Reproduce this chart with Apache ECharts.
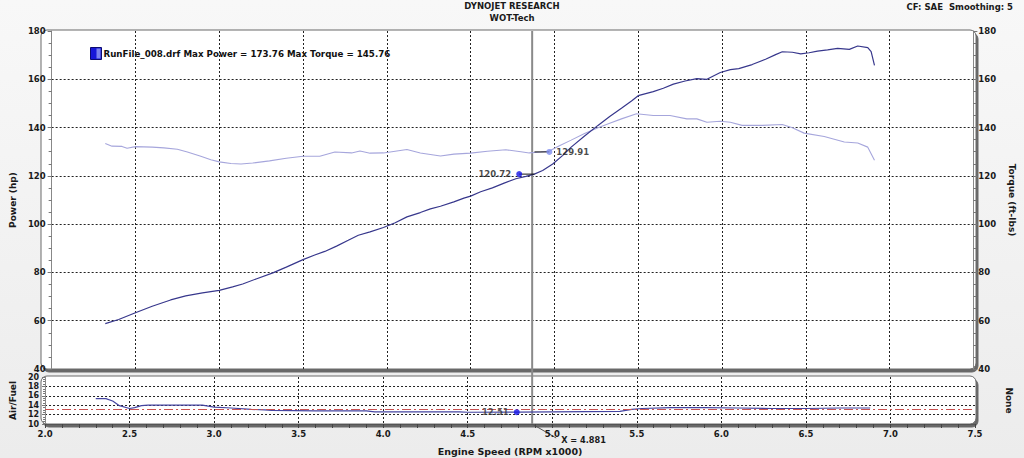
<!DOCTYPE html>
<html>
<head>
<meta charset="utf-8">
<title>Dynojet WOT-Tech</title>
<script src="https://cdn.jsdelivr.net/npm/echarts@6/dist/echarts.min.js"></script>
<style>
  html, body { margin: 0; padding: 0; }
  #chart { width: 1024px; height: 458px; }
</style>
</head>
<body>
<div id="chart"></div>
<script>
// power curve (hp)
const powerRpm = [2.32, 2.40, 2.50, 2.60, 2.71, 2.80, 2.90, 3.00, 3.08, 3.14, 3.22, 3.32, 3.40, 3.50, 3.57, 3.63, 3.70, 3.77, 3.83, 3.90, 3.98, 4.05, 4.12, 4.20, 4.26, 4.32, 4.40, 4.46, 4.50, 4.56, 4.63, 4.70, 4.77, 4.83, 4.88, 4.93, 4.99, 5.05, 5.10, 5.18, 5.26, 5.33, 5.40, 5.46, 5.50, 5.59, 5.65, 5.71, 5.78, 5.85, 5.91, 5.99, 6.05, 6.10, 6.18, 6.26, 6.32, 6.36, 6.42, 6.47, 6.52, 6.57, 6.63, 6.69, 6.76, 6.81, 6.87, 6.89, 6.91]
const powerHp = [58.8, 60.5, 63.3, 66.0, 68.6, 70.3, 71.5, 72.6, 74.0, 75.2, 77.3, 79.8, 82.2, 85.3, 87.2, 88.7, 90.9, 93.3, 95.4, 96.8, 98.6, 100.6, 103.0, 104.8, 106.3, 107.4, 109.2, 110.8, 111.6, 113.4, 115.0, 117.0, 118.8, 119.8, 120.7, 122.2, 124.9, 128.5, 131.9, 136.5, 140.9, 144.6, 148.0, 151.0, 153.2, 154.9, 156.3, 158.0, 159.3, 160.3, 160.0, 162.8, 164.0, 164.4, 166.1, 168.3, 170.2, 171.4, 171.2, 170.5, 171.0, 171.7, 172.2, 172.8, 172.4, 173.8, 173.1, 171.5, 165.8]

// torque curve (ft-lbs)
const torqueRpm = [2.32, 2.36, 2.42, 2.45, 2.50, 2.60, 2.67, 2.75, 2.81, 2.89, 2.95, 3.00, 3.07, 3.13, 3.20, 3.30, 3.40, 3.50, 3.60, 3.69, 3.79, 3.84, 3.90, 3.98, 4.05, 4.12, 4.20, 4.32, 4.40, 4.50, 4.60, 4.71, 4.80, 4.85, 4.92, 4.97, 5.03, 5.10, 5.18, 5.26, 5.33, 5.40, 5.49, 5.59, 5.69, 5.79, 5.85, 5.91, 5.99, 6.05, 6.12, 6.24, 6.36, 6.42, 6.49, 6.61, 6.73, 6.81, 6.87, 6.91]
const torqueFtlb = [133.4, 132.3, 132.2, 131.4, 132.1, 131.9, 131.6, 131.0, 129.9, 128.1, 126.7, 125.8, 125.1, 124.9, 125.3, 126.2, 127.3, 128.1, 128.1, 129.9, 129.5, 130.3, 129.4, 129.5, 130.2, 130.9, 129.5, 128.2, 129.0, 129.4, 130.2, 130.8, 130.0, 129.5, 129.9, 130.3, 132.5, 134.8, 137.5, 139.9, 141.8, 143.6, 145.7, 145.0, 145.0, 143.6, 143.6, 142.2, 142.6, 142.2, 140.9, 140.9, 141.3, 139.9, 137.7, 136.3, 134.0, 133.6, 131.9, 126.5]

// air/fuel ratio
const afrRpm = [2.30, 2.36, 2.40, 2.44, 2.50, 2.53, 2.57, 2.61, 2.80, 2.93, 3.00, 3.10, 3.22, 3.30, 3.34, 3.60, 3.90, 3.95, 4.10, 4.45, 4.50, 4.79, 5.00, 5.40, 5.47, 5.53, 5.70, 5.90, 6.10, 6.30, 6.50, 6.70, 6.88]
const afrRatio = [15.4, 15.4, 14.9, 13.9, 13.3, 13.5, 13.9, 14.0, 14.0, 14.0, 13.6, 13.4, 13.1, 13.0, 12.9, 12.8, 12.8, 12.6, 12.6, 12.6, 12.5, 12.51, 12.6, 12.7, 13.1, 13.3, 13.5, 13.5, 13.4, 13.3, 13.3, 13.4, 13.4]
const afrTarget = 13.1

// cursor readout
const cursorRpm = 4.881
const powerReadout = [4.79, 120.72]
const torqueReadout = [4.97, 129.91]
const afrReadout = [4.79, 12.51]

// axes
const rpmRange = [2.0, 7.5, 0.5]
const hpRange = [40, 180, 20]
const afrRange = [10, 20, 2]

const runLabel = 'RunFile_008.drf Max Power = 173.76 Max Torque = 145.76'

const FONT = 'DejaVu Sans'
const txt = (size, extra) => Object.assign({ fontFamily: FONT, fontWeight: 'bold', fontSize: size, color: '#1a1a1a' }, extra || {})
const dotted = { show: true, lineStyle: { color: '#222', type: [2, 2], width: 1 }, showMinLine: false, showMaxLine: false }

const zip = (xs, ys) => xs.map((x, i) => [x, ys[i]])

const chart = echarts.init(document.getElementById('chart'), null, { renderer: 'svg' })

const xBase = {
  type: 'value', min: rpmRange[0], max: rpmRange[1], interval: rpmRange[2]
}

const option = {
  animation: false,
  backgroundColor: {
    type: 'linear', x: 0, y: 0, x2: 0, y2: 1,
    colorStops: [{ offset: 0, color: '#f8f8f8' }, { offset: 1, color: '#ececec' }]
  },
  title: {
    text: 'DYNOJET RESEARCH',
    subtext: 'WOT-Tech',
    left: 'center', top: 0, itemGap: 3, padding: [1, 0, 0, 0],
    textStyle: txt(8.5),
    subtextStyle: txt(8.5)
  },
  grid: [
    { left: 42, right: 49, top: 31, height: 338 },
    { left: 42, right: 49, top: 377, height: 47 }
  ],
  xAxis: [
    Object.assign({}, xBase, {
      gridIndex: 0,
      axisLine: { show: false }, axisTick: { show: false }, axisLabel: { show: false },
      splitLine: dotted
    }),
    Object.assign({}, xBase, {
      gridIndex: 1,
      axisLine: { show: true, lineStyle: { color: '#555' } },
      axisTick: { show: true, length: 4, lineStyle: { color: '#444' } },
      minorTick: { show: true, splitNumber: 5, length: 4, lineStyle: { color: '#444' } },
      axisLabel: Object.assign(txt(8.5), { margin: 5, formatter: v => v.toFixed(1) }),
      splitLine: dotted,
      name: 'Engine Speed (RPM x1000)', nameLocation: 'middle', nameGap: 22,
      nameTextStyle: txt(9.5)
    })
  ],
  yAxis: [
    {
      gridIndex: 0, type: 'value', position: 'left',
      min: hpRange[0], max: hpRange[1], interval: hpRange[2],
      axisLine: { show: true, lineStyle: { color: '#888' } },
      axisTick: { show: true, length: 4, lineStyle: { color: '#777' } },
      minorTick: { show: true, splitNumber: 4, length: 3, lineStyle: { color: '#777' } },
      axisLabel: Object.assign(txt(8.5), { margin: 6 }),
      splitLine: dotted,
      name: 'Power (hp)', nameLocation: 'middle', nameRotate: 90, nameGap: 25,
      nameTextStyle: txt(9)
    },
    {
      gridIndex: 0, type: 'value', position: 'right',
      min: hpRange[0], max: hpRange[1], interval: hpRange[2],
      axisLine: { show: true, lineStyle: { color: '#888' } },
      axisTick: { show: true, length: 4, lineStyle: { color: '#777' } },
      minorTick: { show: true, splitNumber: 4, length: 3, lineStyle: { color: '#777' } },
      axisLabel: Object.assign(txt(8.5), { margin: 5 }),
      splitLine: { show: false },
      name: 'Torque (ft-lbs)', nameLocation: 'middle', nameRotate: -90, nameGap: 31,
      nameTextStyle: txt(9)
    },
    {
      gridIndex: 1, type: 'value', position: 'left',
      min: afrRange[0], max: afrRange[1], interval: afrRange[2],
      axisLine: { show: true, lineStyle: { color: '#888' } },
      axisTick: { show: true, length: 3, lineStyle: { color: '#777' } },
      minorTick: { show: true, splitNumber: 4, length: 2, lineStyle: { color: '#777' } },
      axisLabel: Object.assign(txt(8), { margin: 6, lineHeight: 8 }),
      splitLine: dotted,
      name: 'Air/Fuel', nameLocation: 'middle', nameRotate: 90, nameGap: 25,
      nameTextStyle: txt(9)
    },
    {
      gridIndex: 1, type: 'value', position: 'right',
      min: afrRange[0], max: afrRange[1], interval: afrRange[2],
      axisLine: { show: false }, axisTick: { show: false }, axisLabel: { show: false },
      splitLine: { show: false },
      name: 'None', nameLocation: 'middle', nameRotate: -90, nameGap: 29,
      nameTextStyle: txt(9)
    }
  ],
  graphic: [
    {
      type: 'rect', id: 'panelTop', z: -10, silent: true,
      shape: { x: 41, y: 30, width: 935, height: 339, r: 6 },
      style: { fill: '#fff', stroke: '#6a6a6a', lineWidth: 1, shadowColor: 'rgba(90,90,90,0.9)', shadowOffsetX: 2, shadowOffsetY: 3, shadowBlur: 1 }
    },
    {
      type: 'rect', id: 'panelBottom', z: -10, silent: true,
      shape: { x: 41, y: 376, width: 935, height: 48, r: 6 },
      style: { fill: '#fff', stroke: '#6a6a6a', lineWidth: 1, shadowColor: 'rgba(90,90,90,0.9)', shadowOffsetX: 2, shadowOffsetY: 3, shadowBlur: 1 }
    },
    {
      type: 'text', id: 'cfText', right: 11, top: 2,
      style: Object.assign(txt(8.5), { text: 'CF: SAE  Smoothing: 5', fill: '#1a1a1a' })
    },
    {
      type: 'group', id: 'runLegend', left: 90, top: 47,
      children: [
        { type: 'rect', shape: { x: 0, y: 0, width: 11, height: 12 }, style: { fill: '#1818d8', stroke: '#0c0c70', lineWidth: 1 } },
        { type: 'rect', shape: { x: 6, y: 1, width: 4, height: 10 }, style: { fill: '#7d84ee' } },
        { type: 'text', x: 13, y: 6, style: Object.assign(txt(8.7), { text: runLabel, fill: '#111', verticalAlign: 'middle' }) }
      ]
    }
  ],
  series: [
    {
      name: 'Power', type: 'line', xAxisIndex: 0, yAxisIndex: 0,
      data: zip(powerRpm, powerHp), showSymbol: false, z: 4,
      lineStyle: { color: '#37378c', width: 1.2 }
    },
    {
      name: 'Torque', type: 'line', xAxisIndex: 0, yAxisIndex: 1,
      data: zip(torqueRpm, torqueFtlb), showSymbol: false, z: 3,
      lineStyle: { color: '#a6a6dc', width: 1.1 }
    },
    {
      name: 'PowerLink', type: 'line', xAxisIndex: 0, yAxisIndex: 0, z: 5,
      data: [powerReadout, [cursorRpm, powerReadout[1]]], showSymbol: false,
      lineStyle: { color: '#111', width: 1 }
    },
    {
      name: 'TorqueLink', type: 'line', xAxisIndex: 0, yAxisIndex: 1, z: 5,
      data: [[cursorRpm, torqueReadout[1]], torqueReadout], showSymbol: false,
      lineStyle: { color: '#111', width: 1 }
    },
    {
      name: 'PowerReadout', type: 'scatter', xAxisIndex: 0, yAxisIndex: 0, z: 6,
      data: [powerReadout], symbolSize: 6,
      itemStyle: { color: '#1414e6' },
      label: Object.assign(txt(8.5), { show: true, position: 'left', distance: 5, formatter: p => p.value[1].toFixed(2) })
    },
    {
      name: 'TorqueReadout', type: 'scatter', xAxisIndex: 0, yAxisIndex: 1, z: 6,
      data: [torqueReadout], symbolSize: 6,
      itemStyle: { color: '#7f8ef0' },
      label: Object.assign(txt(8.5), { show: true, position: 'right', distance: 4, formatter: p => p.value[1].toFixed(2) })
    },
    {
      name: 'AirFuel', type: 'line', xAxisIndex: 1, yAxisIndex: 2, z: 4,
      data: zip(afrRpm, afrRatio), showSymbol: false,
      lineStyle: { color: '#4444a0', width: 1.2 },
      markLine: {
        silent: true, symbol: 'none', label: { show: false },
        lineStyle: { color: '#c9504f', type: [9, 3, 2, 3], width: 1 },
        data: [{ yAxis: afrTarget }]
      }
    },
    {
      name: 'AfrReadout', type: 'scatter', xAxisIndex: 1, yAxisIndex: 2, z: 6,
      data: [afrReadout], symbolSize: 6,
      itemStyle: { color: '#1414e6' },
      label: Object.assign(txt(8.5), { show: true, position: 'left', distance: 5, color: '#333', formatter: p => p.value[1].toFixed(2) })
    }
  ]
}

chart.setOption(option)

// crosshair through both panels at the cursor rpm, placed with the axis scale
const cx = chart.convertToPixel({ xAxisIndex: 1 }, cursorRpm)
const topY = chart.convertToPixel({ yAxisIndex: 0 }, hpRange[1])
const botY = chart.convertToPixel({ yAxisIndex: 2 }, afrRange[0])
chart.setOption({
  graphic: [
    { type: 'line', id: 'cursor', z: 2, silent: true, shape: { x1: cx, y1: topY, x2: cx, y2: botY }, style: { stroke: '#8a8a8a', lineWidth: 2 } },
    { type: 'line', id: 'cursorLead', silent: true, shape: { x1: cx, y1: botY, x2: cx + 24, y2: botY + 14 }, style: { stroke: '#555', lineWidth: 1 } },
    { type: 'text', id: 'cursorText', x: cx + 29, y: botY + 16, style: Object.assign(txt(8.2), { text: 'X = ' + cursorRpm.toFixed(3), fill: '#1a1a1a', verticalAlign: 'middle' }) }
  ]
})
</script>
</body>
</html>
